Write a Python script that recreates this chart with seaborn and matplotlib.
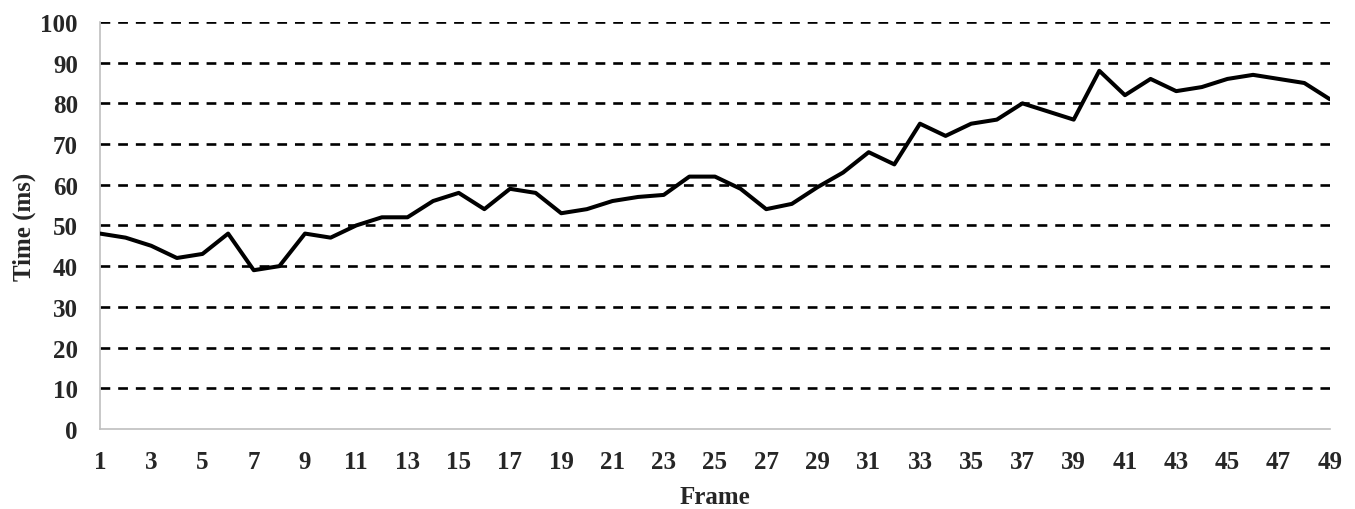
import matplotlib
matplotlib.use("Agg")
import matplotlib.pyplot as plt
import pandas as pd
import seaborn as sns

# Время обработки кадра, мс
frames = list(range(1, 50))
time_ms = [
    48, 47, 45, 42, 43, 48, 39, 40, 48, 47,
    50, 52, 52, 56, 58, 54, 59, 58, 53, 54,
    56, 57, 57.5, 62, 62, 59, 54, 55.3, 59.4, 63,
    68, 65, 75, 72, 75, 76, 80, 78, 76, 88,
    82, 86, 83, 84, 86, 87, 86, 85, 81,
]
xtick_labels = [str(f) for f in frames[::2]]
ytick_values = list(range(0, 101, 10))

df = pd.DataFrame({"Frame": frames, "Time (ms)": time_ms})

sns.set_style("white")
plt.rcParams["font.family"] = ["Liberation Serif", "DejaVu Serif"]
plt.rcParams["font.weight"] = "bold"

fig = plt.figure(figsize=(13.55, 5.10), dpi=100)
ax = fig.add_axes([0.0738, 0.157, 0.9077, 0.798])

sns.lineplot(data=df, x="Frame", y="Time (ms)", color="black",
             linewidth=2.9, ax=ax, zorder=3)
for ln in ax.get_lines():
    ln.set_solid_joinstyle("round")
    ln.set_solid_capstyle("round")

ax.set_xlim(1, 49)
ax.set_ylim(0, 100)
ax.set_xticks(frames[::2])
ax.set_xticklabels(xtick_labels, fontsize=18, fontweight="bold")
ax.set_yticks(ytick_values)
ax.set_yticklabels([str(v) for v in ytick_values], fontsize=18, fontweight="bold")
ax.tick_params(axis="both", length=0)
ax.tick_params(axis="y", pad=16)
ax.tick_params(axis="x", pad=15)

ax.yaxis.grid(True, color="black", linestyle=(0, (3.7, 3.0)), linewidth=1.9)
ax.xaxis.grid(False)
ax.get_ygridlines()[0].set_visible(False)
ax.set_axisbelow(True)

for side in ("top", "right"):
    ax.spines[side].set_visible(False)
for side in ("left", "bottom"):
    ax.spines[side].set_color("#bfbfbf")
    ax.spines[side].set_linewidth(1.2)

ax.set_xlabel("Frame", fontsize=18, fontweight="bold", labelpad=9)
ax.set_ylabel("Time (ms)", fontsize=18, fontweight="bold", labelpad=3)

fig.savefig("out.png", dpi=100)
